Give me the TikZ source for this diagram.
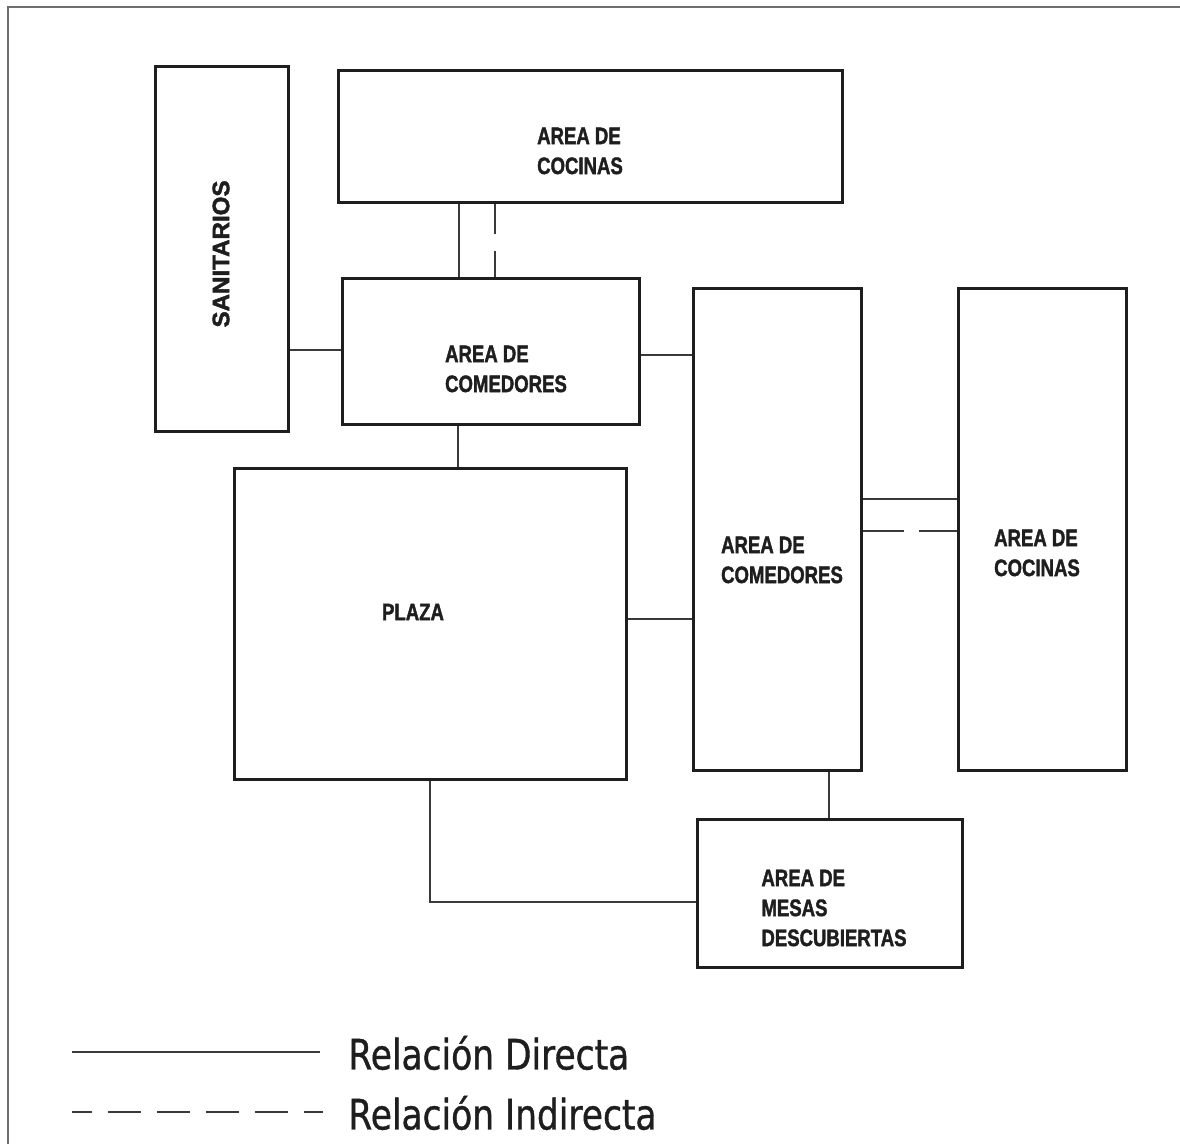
\documentclass[tikz,border=0pt]{standalone}
\usepackage{fontspec}
\setmainfont{Liberation Sans}
\newfontfamily\roomfont{Liberation Sans}[FakeStretch=0.78,FakeBold=1.6]
\newfontfamily\legendfont{DejaVu Sans}[FakeStretch=0.82,FakeBold=0.9]
\usetikzlibrary{fit}
\definecolor{inkgray}{HTML}{1E1E1E}
\definecolor{wiregray}{HTML}{3A3A3A}
\definecolor{framegray}{HTML}{6E6E6E}
\tikzset{
  room/.style={rectangle,draw=inkgray,line width=1.5pt,inner sep=0pt},
  roomtext/.style={font=\roomfont\bfseries\fontsize{11.9}{15}\selectfont,
                   text=inkgray,align=left,inner sep=0pt},
  legendtext/.style={font=\legendfont\fontsize{21}{24}\selectfont,
                     text=inkgray,inner sep=0pt,anchor=west},
  directo/.style={draw=wiregray,line width=0.75pt},
  indirecto/.style={directo,dash pattern=on 15pt off 8.5pt}
}

\begin{document}
\begin{tikzpicture}[x=0.5pt,y=-0.5pt]
    \useasboundingbox (0,0) rectangle (1180,1144);
    \draw[framegray,line width=1pt] (8,1144) -- (8,7) -- (1180,7);

    \node[room,fit={(155,67) (288,432)}] (san) {};
    \node[room,fit={(338,71) (842,203)}] (cocA) {};
    \node[room,fit={(342,279) (639,425)}] (comA) {};
    \node[room,fit={(693,289) (861,771)}] (comB) {};
    \node[room,fit={(958,289) (1126,771)}] (cocB) {};
    \node[room,fit={(234,469) (626,780)}] (plaza) {};
    \node[room,fit={(697,820) (962,968)}] (mesas) {};

    \node[roomtext,rotate=90,xscale=1.3] (sanlbl) at (221,254) {SANITARIOS};
    \node[roomtext] (cocAlbl) at (580,151) {AREA DE\\COCINAS};
    \node[roomtext] (comAlbl) at (506,369) {AREA DE\\COMEDORES};
    \node[roomtext] (comBlbl) at (782,560) {AREA DE\\COMEDORES};
    \node[roomtext] (cocBlbl) at (1037,553) {AREA DE\\COCINAS};
    \node[roomtext] (plazalbl) at (413,612) {PLAZA};
    \node[roomtext] (mesaslbl) at (834,908) {AREA DE\\MESAS\\DESCUBIERTAS};

    \draw[directo] (cocA.south -| 459,0) -- (comA.north -| 459,0);
    \draw[indirecto] (cocA.south -| 495,0) -- (comA.north -| 495,0);
    \draw[directo] (san.east |- 0,350) -- (comA.west |- 0,350);
    \draw[directo] (comA.east |- 0,355) -- (comB.west |- 0,355);
    \draw[directo] (comA.south -| 458,0) -- (plaza.north -| 458,0);
    \draw[directo] (plaza.east |- 0,619) -- (comB.west |- 0,619);
    \draw[directo] (comB.east |- 0,499) -- (cocB.west |- 0,499);
    \draw[indirecto,dash pattern=on 20.5pt off 7.5pt] (comB.east |- 0,531) -- (cocB.west |- 0,531);
    \draw[directo] (comB.south -| 829,0) -- (mesas.north -| 829,0);
    \draw[directo] (plaza.south -| 430,0) |- (mesas.west |- 0,902);

    \coordinate (dirA) at (72,1052);
    \coordinate (dirB) at (320,1052);
    \draw[directo] (dirA) -- (dirB);
    \node[legendtext] (dirlbl) at (348,1053) {Relación Directa};
    \coordinate (indA) at (72,1112);
    \coordinate (indB) at (323,1112);
    \draw[directo,dash pattern=on 16.5pt off 8pt,dash phase=6.5pt] (indA) -- (indB);
    \node[legendtext] (indlbl) at (348,1113) {Relación Indirecta};
\end{tikzpicture}
\end{document}
